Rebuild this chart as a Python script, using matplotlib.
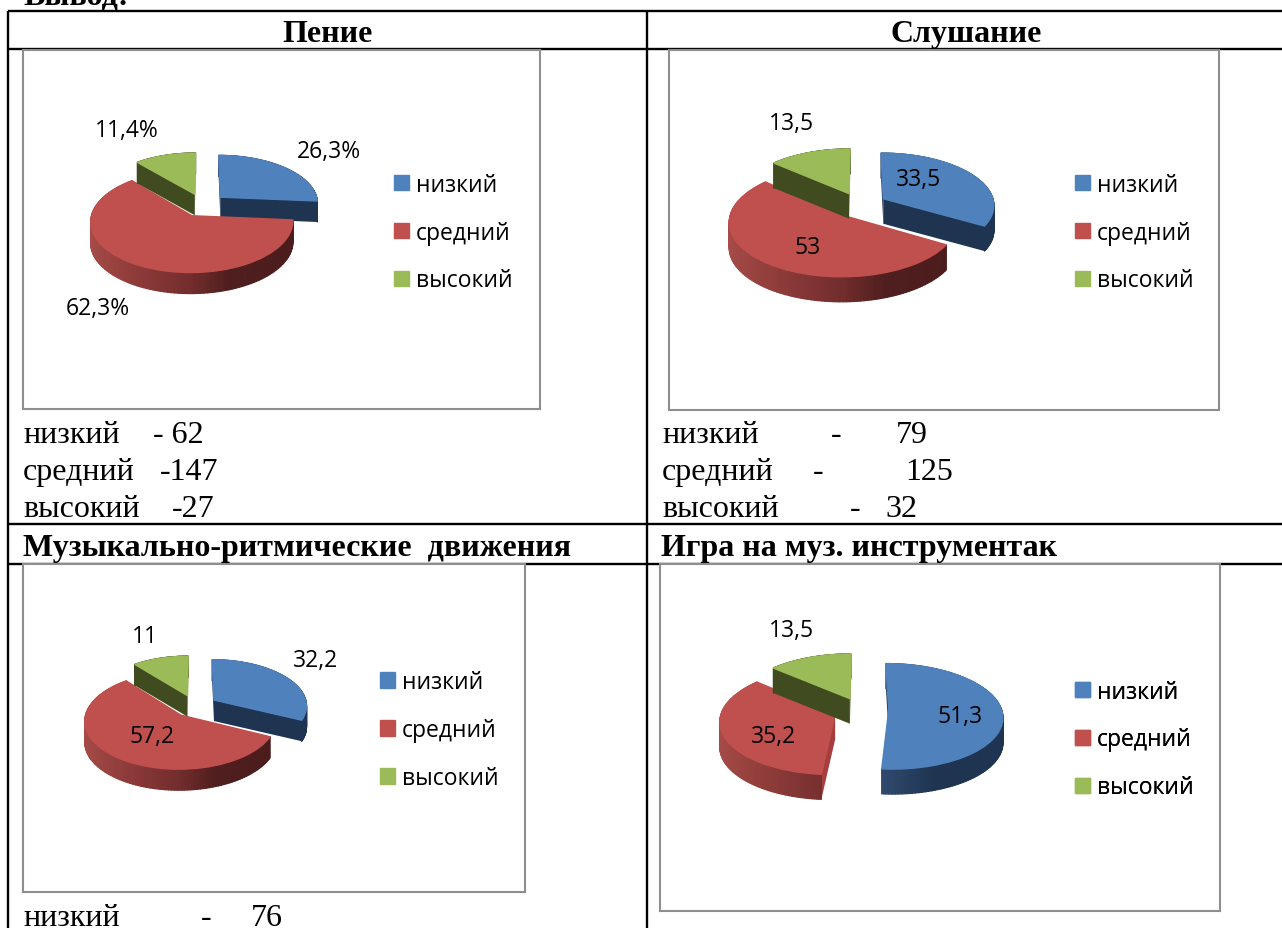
import numpy as np
import matplotlib
matplotlib.use('Agg')
import matplotlib.pyplot as plt
from matplotlib.collections import PolyCollection
from matplotlib.transforms import Transform

W, H = 1282, 929
LEVELS = ['низкий', 'средний', 'высокий']
heading_top = 'Вывод:'
titles = ['Пение', 'Слушание', 'Музыкально-ритмические  движения', 'Игра на муз. инструментак']

singing = [26.3, 62.3, 11.4]
listening = [33.5, 53, 13.5]
movement = [32.2, 57.2, 11]
instruments = [51.3, 35.2, 13.5]

singing_labels = ['26,3%', '62,3%', '11,4%']
listening_labels = ['33,5', '53', '13,5']
movement_labels = ['32,2', '57,2', '11']
instruments_labels = ['51,3', '35,2', '13,5']

TOP = {0: '#4F81BD', 1: '#C0504D', 2: '#9BBB59'}
XS = [-1, -0.5, 0, 0.35, 1]
RIM = {
    0: [(70, 105, 150), (58, 88, 128), (45, 70, 105), (30, 52, 80), (30, 52, 80)],
    1: [(168, 76, 73), (142, 60, 58), (115, 45, 45), (80, 30, 30), (75, 28, 28)],
    2: [(64, 75, 32)] * 5,
}
WALL = {0: (30/255, 52/255, 80/255), 1: (165/255, 62/255, 60/255), 2: (64/255, 75/255, 32/255)}
K = 0.11
EXPLODE = 0.245


class Tilt(Transform):
    input_dims = 2
    output_dims = 2
    is_separable = False
    has_inverse = False

    def transform_non_affine(self, values):
        v = np.asarray(values, dtype=float)
        s = 1.0 / (1.0 + K * v[:, 1])
        return np.column_stack((v[:, 0] * s, v[:, 1] * s))


tilt = Tilt()
fig = plt.figure(figsize=(W / 100, H / 100), dpi=100, facecolor='white')


def px_axes(z):
    a = fig.add_axes([0, 0, 1, 1], zorder=z)
    a.set_xlim(0, W)
    a.set_ylim(H, 0)
    a.axis('off')
    a.patch.set_alpha(0)
    return a


back = px_axes(0)
over = px_axes(5)
SERIF = 'Liberation Serif'
SANS = 'Open Sans'
SANS_SIZE = 16.5
for (x0, y0, x1, y1) in [(8, 12, W, 12), (8, 50, W, 50), (8, 525, W, 525), (8, 565, W, 565),
                         (8, 12, 8, H), (647, 12, 647, H)]:
    back.plot([x0, x1], [y0, y1], color='black', lw=1.7, solid_capstyle='butt')

over.text(23, 4, heading_top, family=SERIF, weight='bold', fontsize=23, va='baseline', clip_on=False)
over.text(328, 42, titles[0], family=SERIF, weight='bold', fontsize=23, ha='center', va='baseline')
over.text(966, 42, titles[1], family=SERIF, weight='bold', fontsize=23, ha='center', va='baseline')
over.text(23, 556, titles[2], family=SERIF, weight='bold', fontsize=23, va='baseline')
over.text(661, 556, titles[3], family=SERIF, weight='bold', fontsize=23, va='baseline')


def pie3d(values, frame, centre, rx, ry, depth, legend_x, legend_y):
    fx0, fy0, fx1, fy1 = frame
    cx, cy = centre
    ax = fig.add_axes([fx0 / W, 1 - fy1 / H, (fx1 - fx0) / W, (fy1 - fy0) / H], zorder=2)
    wedges, _ = ax.pie(values, explode=[EXPLODE] * len(values), startangle=90, counterclock=False,
                       colors=[TOP[i] for i in range(len(values))], frame=True, radius=1)
    ax.set_aspect('auto')
    ax.set_xlim((fx0 - cx) / rx, (fx1 - cx) / rx)
    ax.set_ylim((cy - fy1) / ry, (cy - fy0) / ry)
    ax.set_xticks([])
    ax.set_yticks([])
    for s in ax.spines.values():
        s.set_color('#8e8e8e')
        s.set_linewidth(1.5)
    d = depth / ry
    for order, i in enumerate([0, 1, 2]):
        w = wedges[i]
        base = order * 3 + 2
        w.set_transform(tilt + ax.transData)
        w.set_zorder(base + 2)
        w.set_edgecolor(TOP[i])
        w.set_linewidth(1.0)
        t = np.radians(np.linspace(w.theta1, w.theta2, 121))
        pts = np.column_stack((w.center[0] + w.r * np.cos(t), w.center[1] + w.r * np.sin(t)))
        scr = tilt.transform_non_affine(pts)
        apex = tilt.transform_non_affine(np.array([w.center]))[0]
        for end in (scr[0], scr[-1]):
            ax.fill([apex[0], end[0], end[0], apex[0]], [apex[1], end[1], end[1] - d, apex[1] - d],
                    color=WALL[i], lw=0, zorder=base)
        quads, cols = [], []
        for j in range(len(scr) - 1):
            a, b = scr[j], scr[j + 1]
            quads.append([a, b, (b[0], b[1] - d), (a[0], a[1] - d)])
            xm = (pts[j, 0] + pts[j + 1, 0]) / 2 - w.center[0]
            cols.append([np.interp(xm, XS, [c[n] for c in RIM[i]]) / 255 for n in range(3)])
        ax.add_collection(PolyCollection(quads, facecolors=cols, edgecolors=cols, linewidths=0.9,
                                         zorder=base + 1), autolim=False)
    leg = over.legend(wedges, LEVELS, loc='center left', bbox_to_anchor=(legend_x, legend_y),
                      bbox_transform=over.transData, frameon=False, borderpad=0, borderaxespad=0,
                      prop={'family': SANS, 'size': SANS_SIZE}, handlelength=0.66, handleheight=0.66,
                      handletextpad=0.3, labelspacing=1.04)
    over.add_artist(leg)
    return ax


def put_labels(labels, positions):
    for t, (x, y) in zip(labels, positions):
        over.text(x, y, t, family=SANS, fontsize=SANS_SIZE, ha='center', va='center')


frame_rows = [
    ((23, 51, 540, 410), (203, 206), 98, 48, 21, 394, 233.5,
     singing, singing_labels, [(329, 152), (98, 309), (127, 131)]),
    ((669, 51, 1219, 411), (860, 206), 111, 52, 25, 1075, 233.5,
     listening, listening_labels, [(919, 180), (808, 248), (791, 124)]),
    ((23, 565, 525, 893), (195, 707), 93, 46, 21, 380, 731,
     movement, movement_labels, [(316, 661), (152, 737), (145, 637)]),
    ((660, 565, 1220, 912), (861, 711), 113, 52, 25, 1075, 740.5,
     instruments, instruments_labels, [(960, 717), (774, 737), (791, 631)]),
]
for fr, c, rx, ry, dp, lx, ly, vals, labs, pos in frame_rows:
    pie3d(vals, fr, c, rx, ry, dp, lx, ly)
    put_labels(labs, pos)

# counts written under the charts
counts_left = [('низкий', 23, 443), ('- 62', 153, 443), ('средний', 23, 480), ('-147', 160, 480),
               ('высокий', 23, 517), ('-27', 172, 517)]
counts_right = [('низкий', 662, 443), ('-', 831, 443), ('79', 896, 443),
                ('средний', 662, 480), ('-', 813, 480), ('125', 905, 480),
                ('высокий', 662, 517), ('-', 850, 517), ('32', 885, 517)]
counts_bottom = [('низкий', 23, 926), ('-', 201, 926), ('76', 251, 926)]
for t, x, y in counts_left + counts_right + counts_bottom:
    over.text(x, y, t, family=SERIF, fontsize=23, va='baseline')

fig.savefig('out.png', dpi=100)
